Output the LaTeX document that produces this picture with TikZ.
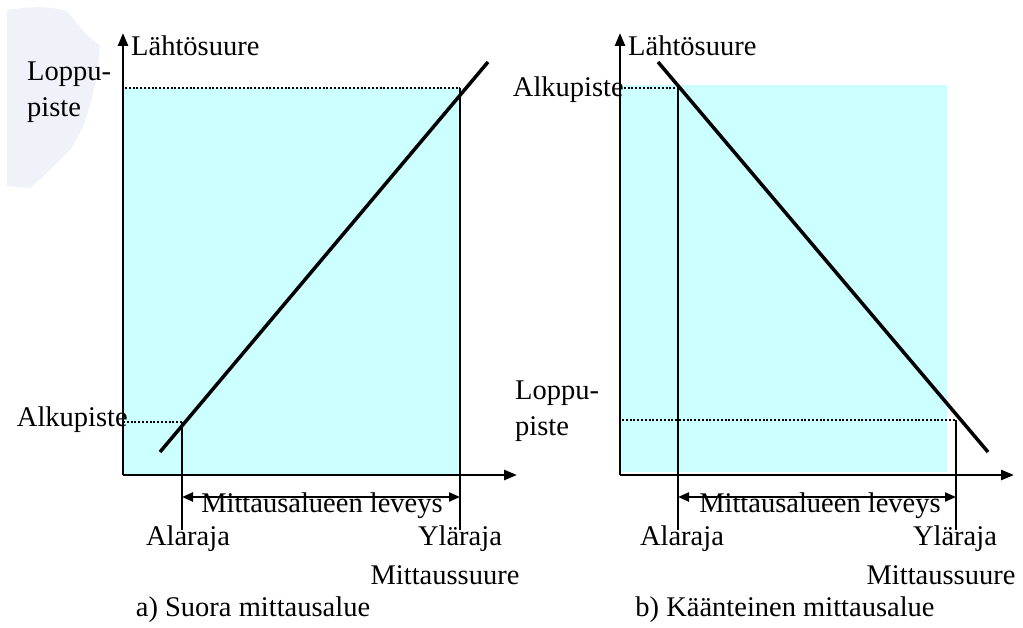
\documentclass[tikz,border=0pt]{standalone}
\usepackage{fontspec}
\setmainfont{Liberation Serif}
\usetikzlibrary{arrows.meta}
\definecolor{fillcyan}{HTML}{CCFFFF}
\definecolor{blob}{HTML}{EFF3F9}
\tikzset{
  lbl/.style={font=\fontsize{28.5}{36}\selectfont, inner sep=0pt},
  axis/.style={line width=2.5pt, -{Triangle[length=13pt,width=10pt]}},
  fn/.style={line width=3.5pt},
  guide/.style={line width=2.4pt},
  dots/.style={line width=2.6pt, dash pattern=on 2pt off 1.8pt},
  span/.style={line width=2.2pt, {Triangle[length=11pt,width=9pt]}-{Triangle[length=11pt,width=9pt]}}
}
\begin{document}
\begin{tikzpicture}[x=1pt,y=-1pt]
\useasboundingbox (0,0) rectangle (1023,628);
% faint background blob
\fill[blob] (7,10) .. controls (30,6) and (55,6) .. (68,12) .. controls (78,25) and (88,38) .. (100,45) -- (98,70) .. controls (92,100) and (85,130) .. (70,150) .. controls (55,165) and (40,180) .. (30,188) -- (7,186) -- cycle;

% ---------- left panel ----------
\coordinate (aO) at (123,475);
\coordinate (aY) at (123,33);
\coordinate (aX) at (517,475);
\fill[fillcyan] (123,88) rectangle (460,475);
\coordinate (aS) at (160,452);
\coordinate (aE) at (488,62);
\coordinate (aLo) at (182,422);
\coordinate (aHi) at (460,88);
\coordinate (aLoB) at (182,530);
\coordinate (aHiB) at (460,530);
\coordinate (aYlo) at (123,422);
\coordinate (aYhi) at (125,88);
\draw[dots] (aYhi) -- (aHi);
\draw[dots] (aYlo) -- (aLo);
\draw[fn] (aS) -- (aE);
\draw[guide] (aLo) -- (aLoB);
\draw[guide] (aHi) -- (aHiB);
\draw[axis] (aO) -- (aY);
\draw[axis] (aO) -- (aX);
\coordinate (aL1) at (182,497);
\coordinate (aL2) at (460,497);
\draw[span] (aL1) -- (aL2);
\node[lbl, anchor=west] (aYlab) at (131,46) {Lähtösuure};
\node[lbl, anchor=west, align=left] (aLoppu) at (27,92) {Loppu-\\piste};
\node[lbl, anchor=east] (aAlku) at (128,420) {Alkupiste};
\node[lbl] (aWidth) at (322,506) {Mittausalueen leveys};
\node[lbl] (aAla) at (188,539) {Alaraja};
\node[lbl] (aYla) at (460,539) {Yläraja};
\node[lbl] (aMitt) at (445,575) {Mittaussuure};
\node[lbl] (aCap) at (253,610) {a) Suora mittausalue};

% ---------- right panel ----------
\coordinate (bO) at (620,475);
\coordinate (bY) at (620,33);
\coordinate (bX) at (1014,475);
\fill[fillcyan] (620,85) rectangle (947,472);
\coordinate (bS) at (658,62);
\coordinate (bE) at (988,452);
\coordinate (bLo) at (678,86);
\coordinate (bHi) at (956,420);
\coordinate (bLoB) at (678,530);
\coordinate (bHiB) at (956,530);
\coordinate (bYlo) at (620,88);
\coordinate (bYhi) at (622,420);
\draw[dots] (bYlo) -- (bLo |- bYlo);
\draw[dots] (bYhi) -- (bHi);
\draw[fn] (bS) -- (bE);
\draw[guide] (bLo) -- (bLoB);
\draw[guide] (bHi) -- (bHiB);
\draw[axis] (bO) -- (bY);
\draw[axis] (bO) -- (bX);
\coordinate (bL1) at (678,497);
\coordinate (bL2) at (956,497);
\draw[span] (bL1) -- (bL2);
\node[lbl, anchor=west] (bYlab) at (628,46) {Lähtösuure};
\node[lbl, anchor=east] (bAlku) at (624,90) {Alkupiste};
\node[lbl, anchor=west, align=left] (bLoppu) at (515,411) {Loppu-\\piste};
\node[lbl] (bWidth) at (820,506) {Mittausalueen leveys};
\node[lbl] (bAla) at (682,539) {Alaraja};
\node[lbl] (bYla) at (955,539) {Yläraja};
\node[lbl] (bMitt) at (941,575) {Mittaussuure};
\node[lbl] (bCap) at (785,610) {b) Käänteinen mittausalue};
\end{tikzpicture}
\end{document}
